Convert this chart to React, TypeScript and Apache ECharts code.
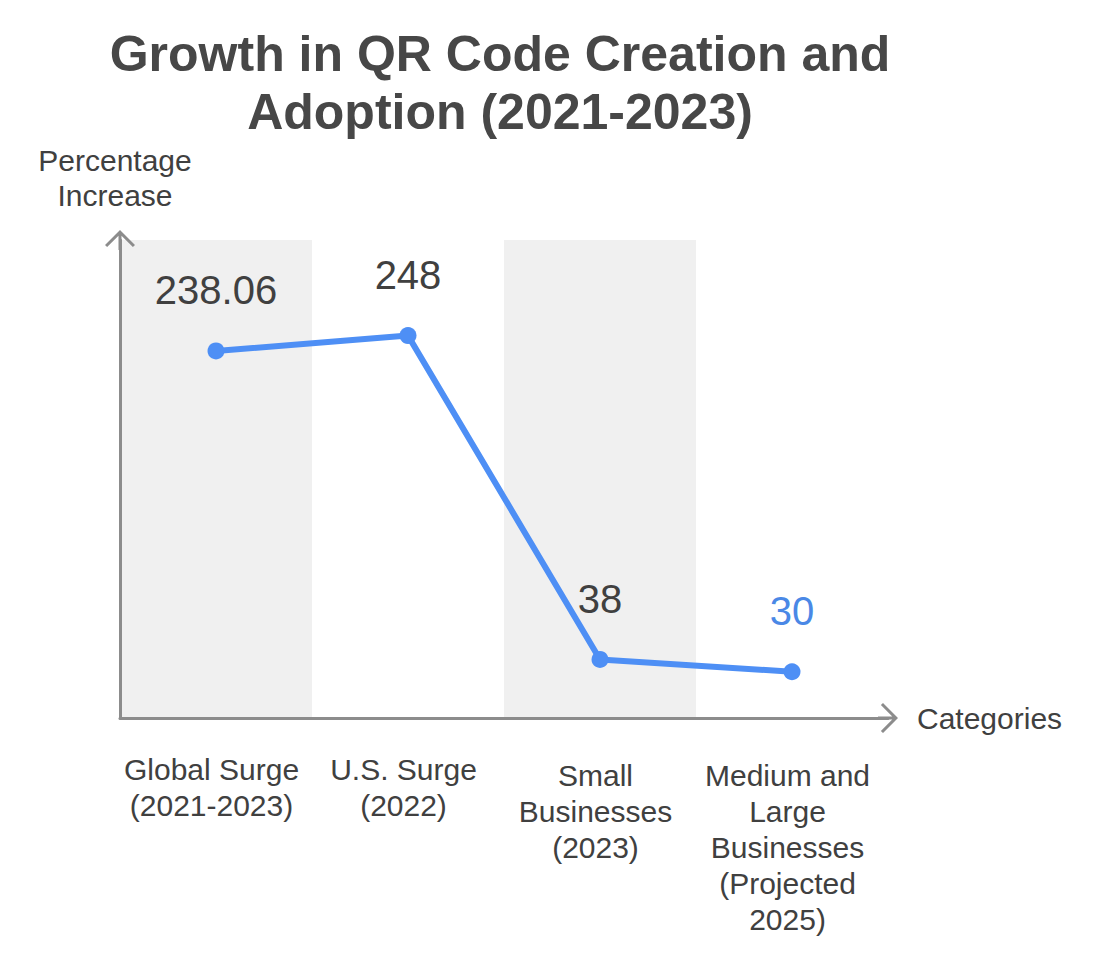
import React, { useEffect, useRef } from "react";
import * as echarts from "echarts";

const titleText = "Growth in QR Code Creation and\nAdoption (2021-2023)";
const categories = [
  "Global Surge\n(2021-2023)",
  "U.S. Surge\n(2022)",
  "Small\nBusinesses\n(2023)",
  "Medium and\nLarge\nBusinesses\n(Projected\n2025)",
];
const values = [238.06, 248, 38, 30];
const yAxisName = "Percentage\nIncrease";
const xAxisName = "Categories";
const yMin = 0;
const yMax = 310;

const FONT = 'Helvetica, Arial, "Liberation Sans", sans-serif';
const TEXT = "#404040";
const BLUE = "#4E8FF5";
const LABEL_BLUE = "#4A88E6";
const AXIS = "#8c8c8c";
const CHEVRON =
  "path://M15 0 L30 15 L27.88 17.12 L15 4.24 L2.12 17.12 L0 15 Z M13.5 3 L16.5 3 L16.5 20 L13.5 20 Z";

export default function App() {
  const ref = useRef<HTMLDivElement>(null);
  useEffect(() => {
    document.body.style.margin = "0";
    if (!ref.current) return;
    const chart = echarts.init(ref.current, undefined, { renderer: "svg" });
    const axisLine = {
      show: true,
      symbol: ["none", CHEVRON],
      symbolSize: [30, 20],
      lineStyle: { color: AXIS, width: 3, cap: "round" },
    };
    chart.setOption({
      animation: false,
      backgroundColor: "#ffffff",
      title: {
        text: titleText,
        left: 495,
        top: 20,
        textAlign: "center",
        textStyle: {
          fontFamily: FONT,
          fontSize: 50,
          fontWeight: "bold",
          color: "#474747",
          lineHeight: 58,
        },
      },
      grid: { left: 120, top: 240, right: 216, bottom: 250 },
      xAxis: {
        type: "category",
        data: categories.map((c, i) => ({
          value: c,
          textStyle: { padding: [i < 2 ? 0 : 6, 9, 0, 0] },
        })),
        boundaryGap: true,
        name: xAxisName,
        nameLocation: "end",
        nameGap: 29,
        nameTextStyle: { fontFamily: FONT, fontSize: 30, color: TEXT },
        axisLine,
        axisTick: { show: false },
        axisLabel: {
          interval: 0,
          margin: 33,
          fontFamily: FONT,
          fontSize: 30,
          lineHeight: 36,
          color: TEXT,
          align: "center",
        },
        splitLine: { show: false },
        splitArea: {
          show: true,
          interval: 0,
          areaStyle: { color: ["#f0f0f0", "rgba(255,255,255,0)"] },
        },
      },
      yAxis: {
        type: "value",
        min: yMin,
        max: yMax,
        name: yAxisName,
        nameLocation: "end",
        nameGap: 27,
        nameTextStyle: {
          fontFamily: FONT,
          fontSize: 30,
          lineHeight: 35,
          color: TEXT,
          align: "center",
          padding: [0, 10, 0, 0],
        },
        axisLine,
        axisTick: { show: false },
        axisLabel: { show: false },
        splitLine: { show: false },
      },
      series: [
        {
          type: "line",
          data: values.map((v, i) =>
            i === values.length - 1
              ? { value: v, label: { color: LABEL_BLUE } }
              : v
          ),
          symbol: "circle",
          symbolSize: 17,
          lineStyle: { color: BLUE, width: 6 },
          itemStyle: { color: BLUE },
          label: {
            show: true,
            position: "top",
            distance: 32,
            fontFamily: FONT,
            fontSize: 40,
            color: TEXT,
          },
          z: 5,
        },
      ],
    });
    return () => chart.dispose();
  }, []);
  return <div ref={ref} style={{ width: 1104, height: 968 }} />;
}
